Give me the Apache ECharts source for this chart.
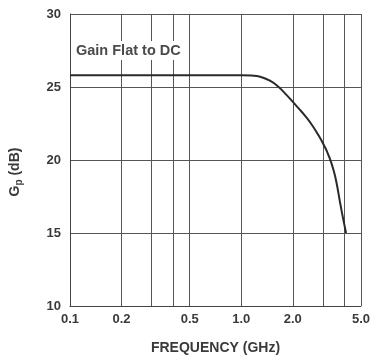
<!DOCTYPE html>
<html>
<head>
<meta charset="utf-8">
<script src="https://cdn.jsdelivr.net/npm/echarts@6/dist/echarts.min.js"></script>
<style>
html,body{margin:0;padding:0;background:#fff;}
#c{width:373px;height:360px;}
</style>
</head>
<body>
<div id="c"></div>
<script>
// Data
var freqGHz = [0.1, 0.2, 0.5, 0.8, 1.0, 1.15, 1.29, 1.47, 1.64, 1.83, 2.0, 2.17, 2.36, 2.57, 2.80, 3.05, 3.26, 3.47, 3.63, 3.78, 3.95, 4.09];
var gainDb  = [25.8, 25.8, 25.8, 25.8, 25.8, 25.78, 25.7, 25.43, 25.03, 24.48, 23.98, 23.52, 23.02, 22.45, 21.77, 20.98, 20.22, 19.25, 18.22, 17.05, 15.88, 15.0];
var xGridValues = [0.1, 0.2, 0.3, 0.4, 0.5, 1, 2, 3, 4, 5];
var xLabelValues = [0.1, 0.2, 0.5, 1, 2, 5];
var xLabelText = {'0.1':'0.1','0.2':'0.2','0.5':'0.5','1':'1.0','2':'2.0','5':'5.0'};
var yTicks = [10, 15, 20, 25, 30];

var font = '"Liberation Sans", Arial, sans-serif';
var chart = echarts.init(document.getElementById('c'), null, {renderer:'canvas'});
chart.setOption({
  animation: false,
  backgroundColor: '#fff',
  grid: {left: 67, right: 8, top: 14, bottom: 53, containLabel: false},
  xAxis: {
    type: 'log', logBase: 10, min: 0.1, max: 5,
    name: 'FREQUENCY (GHz)', nameLocation: 'middle', nameGap: 35,
    nameTextStyle: {fontFamily: font, fontWeight: 'bold', fontSize: 14, color: '#3a3a3a'},
    axisLine: {show: true, lineStyle: {color: '#444', width: 1}},
    axisTick: {show: false, customValues: xGridValues},
    axisLabel: {customValues: xLabelValues, fontFamily: font, fontWeight: 'bold', fontSize: 13, color: '#3a3a3a', margin: 7,
      formatter: function (v) { var k = String(+v.toFixed(3)); return xLabelText[k] || k; }},
    splitLine: {show: true, lineStyle: {color: '#555', width: 1}}
  },
  yAxis: {
    type: 'value', min: yTicks[0], max: yTicks[yTicks.length-1], interval: 5,
    name: '{a|G}{s|p}{a| (dB)}', nameLocation: 'middle', nameGap: 46, nameRotate: 90,
    nameTextStyle: {padding: [0, 24, 0, 0],
      rich: {a: {fontFamily: font, fontWeight: 'bold', fontSize: 14, color: '#3a3a3a'},
             s: {fontFamily: font, fontWeight: 'bold', fontSize: 10, color: '#3a3a3a', verticalAlign: 'bottom', padding: [8, 0, 0, 0]}}},
    axisLine: {show: true, lineStyle: {color: '#444', width: 1}},
    axisTick: {show: false},
    axisLabel: {fontFamily: font, fontWeight: 'bold', fontSize: 13, color: '#3a3a3a', margin: 9},
    splitLine: {show: true, lineStyle: {color: '#555', width: 1}}
  },
  graphic: [{
    type: 'text', left: 75, top: 41, z: 100,
    style: {text: 'Gain Flat to DC', font: 'bold 14.5px ' + font, fill: '#4a4a4a', backgroundColor: '#fff', padding: [2, 1, 2, 1]}
  }],
  series: [{
    type: 'line', smooth: 0.5, symbol: 'none',
    lineStyle: {color: '#2a2a2a', width: 2},
    data: freqGHz.map(function (f, i) { return [f, gainDb[i]]; })
  }]
});
</script>
</body>
</html>
